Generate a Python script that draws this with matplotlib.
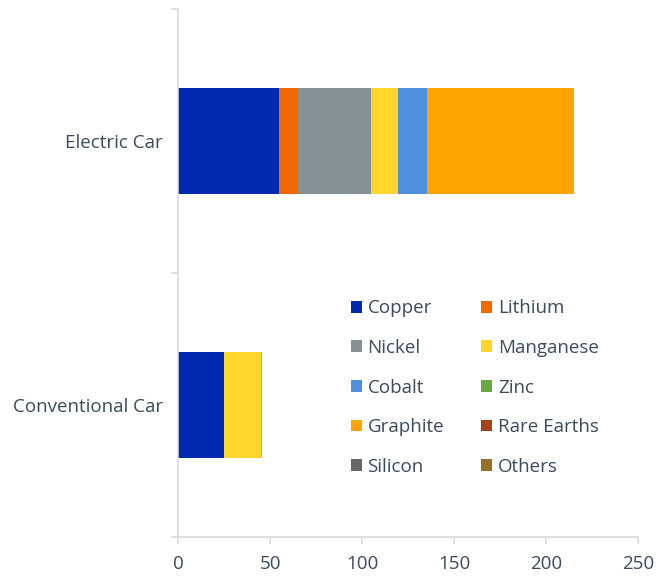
import matplotlib
matplotlib.use("Agg")
import matplotlib.pyplot as plt
from matplotlib.patches import Patch
import numpy as np

plt.rcParams["font.family"] = ["Open Sans", "DejaVu Sans"]

cars = ["Conventional Car", "Electric Car"]
minerals = ["Copper", "Lithium", "Nickel", "Manganese", "Cobalt",
            "Zinc", "Graphite", "Rare Earths", "Silicon", "Others"]
# kg per vehicle, one list per mineral: [conventional, electric]
copper = [25.0, 55.0]
lithium = [0.0, 10.2]
nickel = [0.0, 39.9]
manganese = [20.3, 14.5]
cobalt = [0.0, 15.7]
zinc = [0.0, 0.0]
graphite = [0.5, 79.9]
rare_earths = [0.0, 0.0]
silicon = [0.0, 0.0]
others = [0.0, 0.0]
values = [copper, lithium, nickel, manganese, cobalt,
          zinc, graphite, rare_earths, silicon, others]
colors = ["#0029af", "#f46800", "#869196", "#ffd629", "#4f90de",
          "#6ca743", "#ffa400", "#a0441f", "#666666", "#94712a"]

text_col = "#3b4a5c"
grid_col = "#d9d9d9"
fs = 13.5

fig = plt.figure(figsize=(6.57, 5.76), dpi=100)
ax = fig.add_axes([0.271, 0.068, 0.700, 0.916])

y = np.arange(len(cars))
left = np.zeros(len(cars))
for name, vals, col in zip(minerals, values, colors):
    vals = np.asarray(vals)
    ax.barh(y, vals, left=left, height=0.4, color=col, label=name, linewidth=0)
    left += vals

ax.set_xlim(0, 250)
ax.set_ylim(-0.5, 1.5)
ax.set_xticks([0, 50, 100, 150, 200, 250])
ax.set_yticks([-0.5, 0.5, 1.5])
ax.set_yticklabels([])
ax.set_yticks(y, minor=True)
ax.set_yticklabels(cars, minor=True)
ax.tick_params(axis="y", which="minor", length=0, pad=11, labelsize=fs, labelcolor=text_col)
ax.tick_params(axis="y", which="major", length=5, width=1.2, color=grid_col)
ax.tick_params(axis="x", length=5, width=1.2, color=grid_col, labelsize=fs,
               labelcolor=text_col, pad=8)
for s in ["top", "right"]:
    ax.spines[s].set_visible(False)
for s in ["left", "bottom"]:
    ax.spines[s].set_color(grid_col)
    ax.spines[s].set_linewidth(1.2)

# legend filled row by row: two columns, five rows
order = [0, 2, 4, 6, 8, 1, 3, 5, 7, 9]
handles = [Patch(fc=colors[i], ec="none", label=minerals[i]) for i in order]
ax.legend(handles=handles, ncol=2, loc="upper left", bbox_to_anchor=(0.375, 0.450),
          frameon=False, fontsize=fs, labelcolor=text_col, handlelength=0.6,
          handleheight=0.6, handletextpad=0.3, columnspacing=1.97, labelspacing=1.15,
          borderaxespad=0, borderpad=0)

fig.savefig("out.png", dpi=100)
